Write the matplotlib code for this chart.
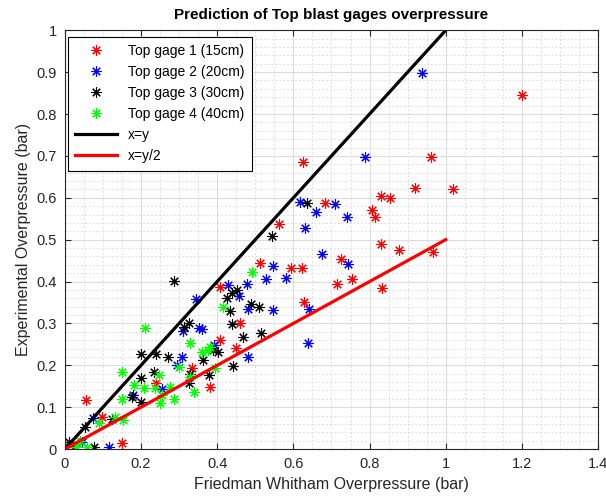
import matplotlib.pyplot as plt
from matplotlib.ticker import MultipleLocator

plt.rcParams['font.family'] = ['Liberation Sans', 'DejaVu Sans']

# Data (x = Friedman Whitham, y = experimental), bar
gage1_x = [1.20, 1.02, 0.96, 0.967, 0.919, 0.877, 0.83, 0.854, 0.806, 0.814, 0.83, 0.833,
           0.625, 0.683, 0.562, 0.725, 0.512, 0.594, 0.622, 0.714, 0.754, 0.628, 0.407,
           0.46, 0.407, 0.449, 0.381, 0.055, 0.239, 0.334, 0.097, 0.15]
gage1_y = [0.845, 0.62, 0.697, 0.47, 0.623, 0.475, 0.604, 0.599, 0.57, 0.553, 0.49, 0.384,
           0.685, 0.587, 0.537, 0.453, 0.444, 0.432, 0.432, 0.394, 0.406, 0.351, 0.387,
           0.301, 0.26, 0.241, 0.148, 0.117, 0.158, 0.193, 0.076, 0.014]

gage2_x = [0.938, 0.788, 0.617, 0.709, 0.659, 0.741, 0.63, 0.675, 0.743, 0.546, 0.528, 0.58,
           0.641, 0.546, 0.638, 0.428, 0.478, 0.457, 0.481, 0.391, 0.481, 0.36, 0.344,
           0.31, 0.352, 0.307, 0.294, 0.255, 0.18, 0.074, 0.045, 0.116]
gage2_y = [0.897, 0.697, 0.59, 0.585, 0.566, 0.553, 0.527, 0.465, 0.442, 0.437, 0.406, 0.408,
           0.334, 0.332, 0.253, 0.391, 0.394, 0.365, 0.334, 0.248, 0.22, 0.286, 0.358,
           0.282, 0.289, 0.219, 0.2, 0.143, 0.13, 0.074, 0.017, 0.005]

gage3_x = [0.635, 0.544, 0.286, 0.439, 0.452, 0.425, 0.433, 0.489, 0.51, 0.439, 0.467, 0.515,
           0.389, 0.402, 0.362, 0.441, 0.378, 0.326, 0.313, 0.2, 0.239, 0.27, 0.234, 0.2,
           0.176, 0.2, 0.328, 0.326, 0.053, 0.123, 0.024, 0.076, 0.01]
gage3_y = [0.587, 0.508, 0.401, 0.372, 0.379, 0.36, 0.329, 0.346, 0.339, 0.298, 0.267, 0.277,
           0.236, 0.232, 0.212, 0.198, 0.177, 0.301, 0.291, 0.227, 0.227, 0.219, 0.184, 0.169,
           0.124, 0.112, 0.18, 0.158, 0.052, 0.072, 0.005, 0.005, 0.017]

gage4_x = [0.491, 0.415, 0.376, 0.36, 0.394, 0.21, 0.15, 0.328, 0.299, 0.247, 0.181, 0.236,
           0.207, 0.276, 0.255, 0.25, 0.286, 0.15, 0.328, 0.339, 0.381, 0.089, 0.131, 0.152,
           0.058, 0.03, 0.04]
gage4_y = [0.422, 0.339, 0.236, 0.232, 0.193, 0.289, 0.184, 0.253, 0.196, 0.177, 0.153, 0.146,
           0.146, 0.148, 0.129, 0.11, 0.119, 0.119, 0.172, 0.136, 0.243, 0.062, 0.076, 0.069,
           0.005, 0.005, 0.02]

ref_x = [0, 1]

fig = plt.figure(figsize=(6.06, 5.04), dpi=100)
ax = fig.add_axes([0.107, 0.109, 0.88, 0.831])

star = (8, 2, 0)  # matlab-like asterisk
ms = 7.5
ax.plot(gage1_x, gage1_y, linestyle='none', marker=star, ms=ms, mew=0.8, color='#ff0000', label='Top gage 1 (15cm)')
ax.plot(gage2_x, gage2_y, linestyle='none', marker=star, ms=ms, mew=0.8, color='#0000ff', label='Top gage 2 (20cm)')
ax.plot(gage3_x, gage3_y, linestyle='none', marker=star, ms=ms, mew=0.8, color='#000000', label='Top gage 3 (30cm)')
ax.plot(gage4_x, gage4_y, linestyle='none', marker=star, ms=ms, mew=0.8, color='#00ff00', label='Top gage 4 (40cm)')
ax.plot(ref_x, [v for v in ref_x], color='black', lw=2.3, label='x=y')
ax.plot(ref_x, [v / 2 for v in ref_x], color='#ff0000', lw=2.3, label='x=y/2')

ax.set_xlim(0, 1.4)
ax.set_ylim(0, 1)
ax.xaxis.set_minor_locator(MultipleLocator(0.05))
ax.yaxis.set_minor_locator(MultipleLocator(0.02))
ax.set_xticks([0, 0.2, 0.4, 0.6, 0.8, 1.0, 1.2, 1.4], ['0', '0.2', '0.4', '0.6', '0.8', '1', '1.2', '1.4'])
ax.set_yticks([i / 10 for i in range(11)], ['0'] + ['0.%d' % i for i in range(1, 10)] + ['1'])

ax.grid(which='major', color='#dcdcdc', lw=0.8, ls='-')
ax.grid(which='minor', color='#dedede', lw=0.7, ls=(0, (2, 2)))
ax.set_axisbelow(True)
ax.tick_params(which='both', direction='in', top=True, right=True, colors='#262626', labelsize=10.5)
ax.tick_params(which='minor', length=0)
ax.tick_params(which='major', length=4, pad=6)
for s in ax.spines.values():
    s.set_color('#262626')
    s.set_linewidth(0.8)

ax.set_title('Prediction of Top blast gages overpressure', fontsize=11, fontweight='bold', pad=8)
ax.set_xlabel('Friedman Whitham Overpressure (bar)', fontsize=11.5, color='#262626')
ax.set_ylabel('Experimental Overpressure (bar)', fontsize=11.5, color='#262626')

leg = ax.legend(loc='upper left', fontsize=10, fancybox=False, framealpha=1,
                edgecolor='black', borderpad=0.55, handlelength=3, labelspacing=0.5,
                borderaxespad=0, bbox_to_anchor=(0.005, 0.985))
leg.get_frame().set_linewidth(0.8)

fig.savefig('out.png', dpi=100)
